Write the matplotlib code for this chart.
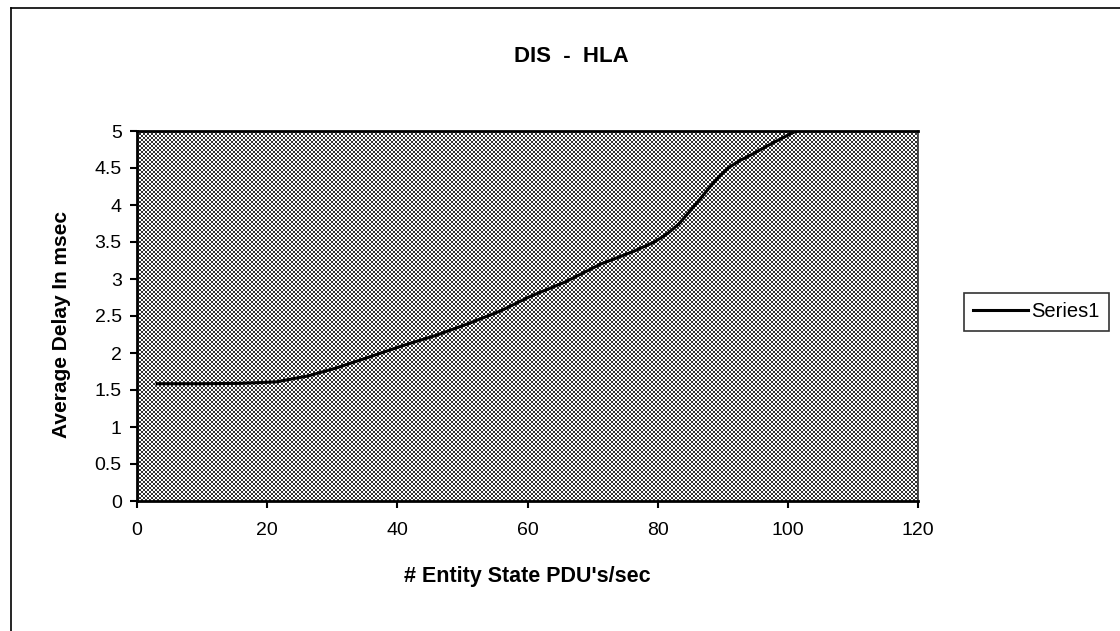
import matplotlib
matplotlib.use('Agg')
import matplotlib.pyplot as plt
from matplotlib.lines import Line2D
import numpy as np

plt.rcParams['font.family'] = ['Liberation Sans', 'DejaVu Sans']

# values
pdus = [3.1, 10, 16, 21.4, 26.3, 30.7, 35.5, 40.5, 46, 51, 55.9, 60.3, 65.8,
        71.2, 76.2, 79.5, 81.6, 83.2, 84.8, 86.4, 88.0, 89.6, 91, 92.6, 94.2,
        97.5, 100.8, 102]
delay = [1.585, 1.585, 1.59, 1.61, 1.69, 1.80, 1.94, 2.09, 2.24, 2.40, 2.57, 2.76, 2.96,
         3.20, 3.37, 3.50, 3.62, 3.74, 3.90, 4.07, 4.24, 4.40, 4.51, 4.60, 4.67,
         4.83, 4.98, 5.02]
xticks = [0, 20, 40, 60, 80, 100, 120]
yticks = [0, 0.5, 1, 1.5, 2, 2.5, 3, 3.5, 4, 4.5, 5]
ytick_labels = ['0', '0.5', '1', '1.5', '2', '2.5', '3', '3.5', '4', '4.5', '5']

fig = plt.figure(figsize=(11.2, 6.31), dpi=100)
ax = fig.add_axes([137 / 1120, 130 / 631, 781 / 1120, 370 / 631])

# dotted plot-area fill (like the old Excel pattern)
i, j = np.mgrid[0:370, 0:781]
pattern = ((i // 2 + j // 2) % 2).astype(float)
ax.imshow(pattern, extent=(0, 120, 0, 5), aspect='auto', cmap='gray',
          vmin=-0.25, vmax=1, interpolation='nearest', zorder=0)

ax.plot(pdus, delay, color='black', lw=2.2, label='Series1', zorder=3)

ax.set_xlim(0, 120)
ax.set_ylim(0, 5)
ax.set_xticks(xticks)
ax.set_yticks(yticks)
ax.set_yticklabels(ytick_labels)
ax.tick_params(labelsize=14, length=5, width=1.5, direction='out')
ax.tick_params(axis='x', pad=10)
ax.tick_params(axis='y', pad=6)
for s in ['left', 'bottom', 'top']:
    ax.spines[s].set_linewidth(2)
ax.spines['right'].set_linewidth(1.2)
ax.spines['right'].set_color('#333333')

fig.text(571 / 1120, 1 - 56 / 631, 'DIS  -  HLA', fontsize=16, fontweight='bold',
         ha='center', va='center')
ax.set_xlabel("# Entity State PDU's/sec", fontsize=15.5, fontweight='bold')
ax.xaxis.set_label_coords(0.5, -0.205)
ax.xaxis.label.set_va('center')
ax.set_ylabel('Average Delay In msec', fontsize=15, fontweight='bold')
ax.yaxis.set_label_coords(-0.097, 0.478)
ax.yaxis.label.set_va('center')

leg = fig.legend(loc='center left', bbox_to_anchor=(964 / 1120, 1 - 312 / 631), frameon=True,
                 fancybox=False, fontsize=14.5, handlelength=2.75, handletextpad=0.15,
                 borderpad=0.45, borderaxespad=0)
leg.get_frame().set_edgecolor('black')
leg.get_frame().set_linewidth(1.2)

# outer chart border
fig.add_artist(Line2D([0.0098, 0.0098], [0.0, 0.987], color='black', lw=1.2, transform=fig.transFigure))
fig.add_artist(Line2D([0.0098, 1.0], [0.987, 0.987], color='black', lw=1.2, transform=fig.transFigure))

fig.savefig('out.png', dpi=100)
